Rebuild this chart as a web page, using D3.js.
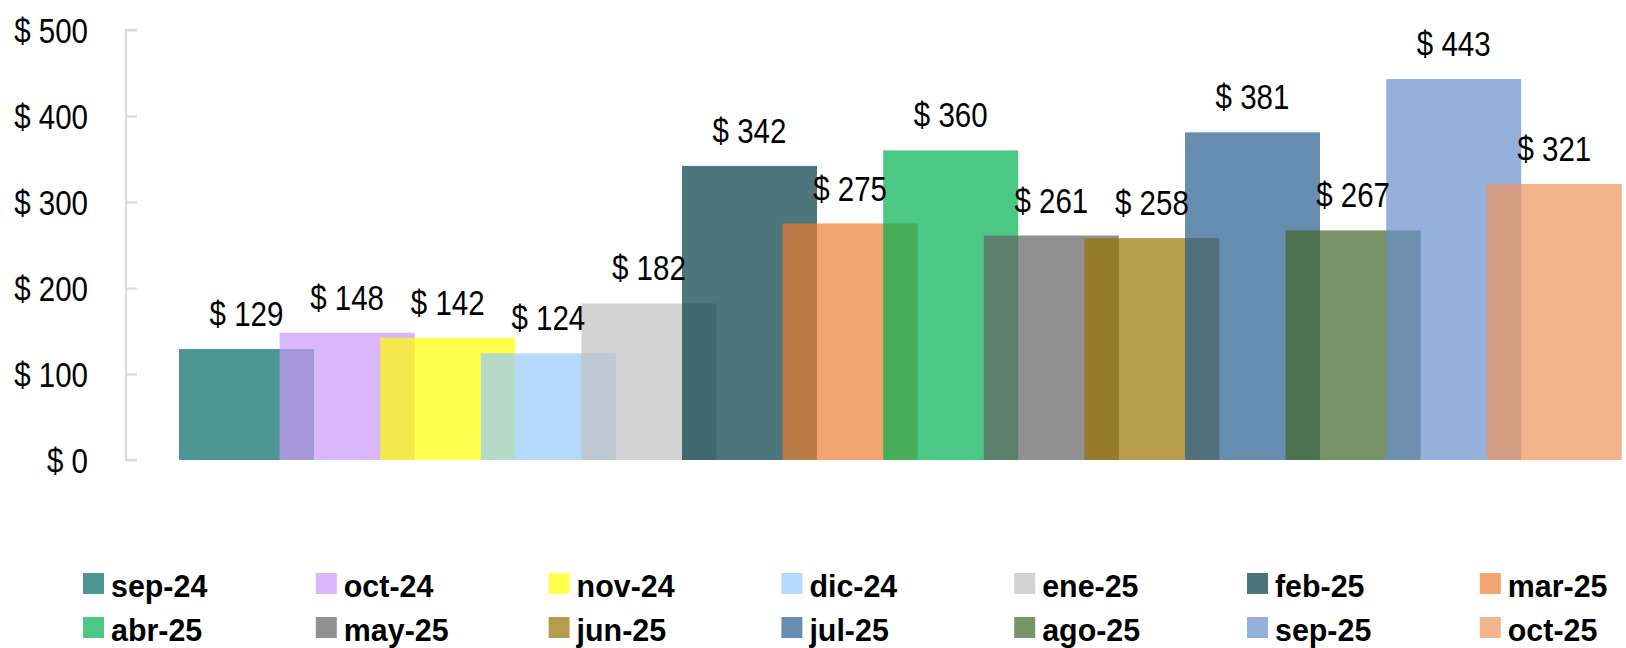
<!DOCTYPE html>
<html>
<head>
<meta charset="utf-8">
<script src="https://cdn.jsdelivr.net/npm/d3@7"></script>
<style>
  body { margin: 0; background: #fff; }
  svg { display: block; }
  .num { font-family: 'Liberation Sans', Arial, sans-serif; font-size: 36px; fill: #000; }
  .leg { font-family: 'Liberation Sans', Arial, sans-serif; font-weight: bold; font-size: 32px; fill: #000; }
</style>
</head>
<body>
<svg></svg>
<script>
window.addEventListener('DOMContentLoaded', () => {
  let svgWidth = 1626
  let svgHeight = 648
  let alpha = 0.7
  let narrow = 0.82      // squeeze for the narrow look of the numbers
  let legNarrow = 0.95

  const months = ['sep-24', 'oct-24', 'nov-24', 'dic-24', 'ene-25', 'feb-25', 'mar-25',
                  'abr-25', 'may-25', 'jun-25', 'jul-25', 'ago-25', 'sep-25', 'oct-25']
  const values = [129, 148, 142, 124, 182, 342, 275, 360, 261, 258, 381, 267, 443, 321]
  // colours as they look on white
  const colors = ['#4e9694', '#dab6fa', '#ffff4d', '#b5dafb', '#d3d3d3', '#4e767c', '#f0a46e',
                  '#4cc886', '#929292', '#b89c4e', '#678db1', '#7a946a', '#96b0dc', '#f3b48c']
  const yTicks = [0, 100, 200, 300, 400, 500]

  let data = months.map((m, i) => ({ month: m, value: values[i], color: colors[i] }))

  /* undo the transparency so the bar looks right on white */
  function baseColor(c) {
    let rgb = d3.rgb(c)
    let f = v => Math.max(0, Math.min(255, (v - (1 - alpha) * 255) / alpha))
    return d3.rgb(f(rgb.r), f(rgb.g), f(rgb.b)).formatHex()
  }

  let svg = d3.select('svg')
      .attr('width', svgWidth)
      .attr('height', svgHeight)

  let xScale = d3.scaleBand()
                  .domain(months)
                  .range([179, 1587.4])
                  .paddingInner(0)
                  .paddingOuter(0)
  let barWidth = xScale.bandwidth() * 1.342

  let yScale = d3.scaleLinear()
                  .domain([0, 500])
                  .range([460, 30])

  /* y-axis */
  let yAxis = d3.axisRight(yScale)
                .tickValues(yTicks)
                .tickSize(11)
                .tickFormat(d => '$ ' + d)

  let yAxisG = svg.append('g')
      .attr('transform', 'translate(126, 0)')
      .call(yAxis)
      .attr('font-size', null)
      .attr('font-family', null)
  yAxisG.select('.domain')
      .attr('stroke', '#d9d9d9')
      .attr('stroke-width', 2)
      .attr('d', `M11,${yScale(0)}H0V${yScale(500)}H11`)
  yAxisG.selectAll('.tick line')
      .attr('stroke', '#d9d9d9')
      .attr('stroke-width', 2)
  yAxisG.selectAll('.tick text')
      .attr('class', 'num')
      .attr('x', 0)
      .attr('dy', '0.35em')
      .attr('transform', `translate(-38, 0) scale(${narrow}, 1)`)
      .style('text-anchor', 'end')

  /* bars */
  svg.append('g')
    .selectAll('rect')
    .data(data)
    .enter()
    .append('rect')
      .attr('x', d => xScale(d.month))
      .attr('y', d => yScale(d.value))
      .attr('width', barWidth)
      .attr('height', d => yScale(0) - yScale(d.value))
      .attr('fill', d => baseColor(d.color))
      .attr('fill-opacity', alpha)

  /* value labels */
  svg.append('g')
    .selectAll('text')
    .data(data)
    .enter()
    .append('text')
      .attr('class', 'num')
      .attr('transform', d => `translate(${xScale(d.month) + barWidth / 2}, ${yScale(d.value) - 23}) scale(${narrow}, 1)`)
      .style('text-anchor', 'middle')
      .text(d => '$ ' + d.value)

  /* legend */
  let legend = svg.append('g')
    .selectAll('g')
    .data(data)
    .enter()
    .append('g')
      .attr('transform', (d, i) => `translate(${83 + (i % 7) * 232.8}, ${573 + Math.floor(i / 7) * 44})`)

  legend.append('rect')
      .attr('width', 21)
      .attr('height', 21)
      .attr('fill', d => baseColor(d.color))
      .attr('fill-opacity', alpha)

  legend.append('text')
      .attr('class', 'leg')
      .attr('transform', `translate(28, 24) scale(${legNarrow}, 1)`)
      .text(d => d.month)
})
</script>
</body>
</html>
